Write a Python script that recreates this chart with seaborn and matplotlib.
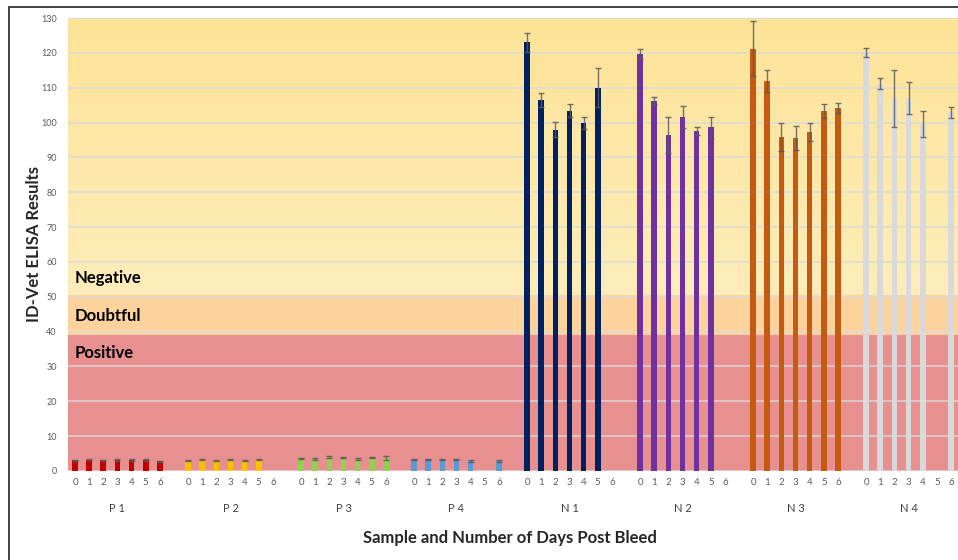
import numpy as np
import pandas as pd
import matplotlib
matplotlib.use("Agg")
import matplotlib.pyplot as plt
import seaborn as sns
from matplotlib.colors import LinearSegmentedColormap
from matplotlib.patches import Rectangle
import matplotlib.transforms as mtransforms

# Datos (NaN = sin barra)
muestras = ["P 1", "P 2", "P 3", "P 4", "N 1", "N 2", "N 3", "N 4"]
dias = [0, 1, 2, 3, 4, 5, 6]
colores = ["#C00000", "#FFC000", "#92D050", "#5B9BD5",
           "#002060", "#7030A0", "#C55A11", "#D9D9D9"]

p1_media = [3.1, 3.3, 3.1, 3.2, 3.2, 3.2, 2.8]
p1_err = [0.15, 0.2, 0.15, 0.2, 0.2, 0.2, 0.2]
p2_media = [3.1, 3.3, 3.1, 3.2, 3.0, 3.3, np.nan]
p2_err = [0.15, 0.2, 0.15, 0.15, 0.15, 0.2, np.nan]
p3_media = [3.6, 3.4, 4.0, 4.0, 3.4, 3.8, 3.7]
p3_err = [0.2, 0.2, 0.2, 0.15, 0.2, 0.2, 0.5]
p4_media = [3.4, 3.4, 3.3, 3.3, 2.9, np.nan, 2.9]
p4_err = [0.15, 0.15, 0.15, 0.15, 0.2, np.nan, 0.2]
n1_media = [123.0, 106.5, 98.0, 103.4, 99.9, 110.0, np.nan]
n1_err = [2.8, 1.9, 2.1, 1.8, 1.7, 5.6, np.nan]
n2_media = [119.7, 106.3, 96.5, 101.6, 97.5, 98.6, np.nan]
n2_err = [1.4, 1.1, 5.1, 3.1, 1.2, 3.0, np.nan]
n3_media = [121.2, 112.0, 95.8, 95.6, 97.3, 103.2, 104.2]
n3_err = [7.8, 3.2, 4.1, 3.5, 2.7, 2.0, 1.5]
n4_media = [120.1, 111.2, 107.0, 107.0, 99.6, np.nan, 102.9]
n4_err = [1.2, 1.5, 8.2, 4.5, 3.8, np.nan, 1.5]

medias = [p1_media, p2_media, p3_media, p4_media, n1_media, n2_media, n3_media, n4_media]
errores = [p1_err, p2_err, p3_err, p4_err, n1_err, n2_err, n3_err, n4_err]

# Orden de categorías con un hueco entre grupos
orden = []
etiquetas = []
for i, m in enumerate(muestras):
    for d in dias:
        orden.append(f"{m}|{d}")
        etiquetas.append(str(d))
    if i < len(muestras) - 1:
        orden.append(f"hueco{i}")
        etiquetas.append("")

filas = []
for m, med, err in zip(muestras, medias, errores):
    for d, v, e in zip(dias, med, err):
        if not np.isnan(v):
            filas.append({"slot": f"{m}|{d}", "muestra": m, "valor": v, "err": e})
df = pd.DataFrame(filas)

sns.set_style("white")
plt.rcParams["font.family"] = ["Lato", "DejaVu Sans"]

fig = plt.figure(figsize=(9.58, 5.6), dpi=100)
ax = fig.add_axes([68 / 958, 1 - 471 / 560, 1 - 68 / 958, (471 - 18) / 560])

xmin, xmax = -0.5, len(orden) - 0.5

# Bandas de interpretación
grad = LinearSegmentedColormap.from_list("neg", ["#FEEDBA", "#FDE397"])
ax.imshow(np.linspace(0, 1, 256).reshape(-1, 1), cmap=grad, origin="lower",
          extent=[xmin, xmax, 50.5, 130], aspect="auto", zorder=0.1)
ax.axhspan(39, 50.5, color="#FDD29C", zorder=0.1, lw=0)
ax.axhspan(0, 39, color="#E88F8F", zorder=0.1, lw=0)

for yv in range(0, 131, 10):
    ax.axhline(yv, color="#D9D9D9", alpha=0.8, lw=1.3, zorder=0.3)

sns.barplot(data=df, x="slot", y="valor", hue="muestra", order=orden,
            hue_order=muestras, palette=colores, dodge=False, width=0.4,
            saturation=1, errorbar=None, legend=False, ax=ax, zorder=2,
            linewidth=0, edgecolor="none")

pos = [orden.index(s) for s in df["slot"]]
ax.errorbar(pos, df["valor"], yerr=df["err"], fmt="none", ecolor="#5A5A5A",
            elinewidth=1, capsize=2, capthick=1, alpha=0.85, zorder=3)

ax.set_xlim(xmin, xmax)
ax.set_ylim(0, 130)
ax.set_yticks(range(0, 131, 10))
ax.tick_params(axis="y", labelsize=6.5, labelcolor="#595959", length=0, pad=8)
ax.set_xticks(range(len(orden)))
ax.set_xticklabels(etiquetas)
ax.tick_params(axis="x", labelsize=7, labelcolor="#595959", length=0, pad=5)
for s in ax.spines.values():
    s.set_visible(False)

# Etiquetas de grupo
trans = mtransforms.blended_transform_factory(ax.transData, fig.transFigure)
for m in muestras:
    centro = (orden.index(f"{m}|0") + orden.index(f"{m}|6")) / 2
    ax.text(centro, 1 - 508 / 560, m, transform=trans, ha="center", va="center",
            fontsize=8, color="#404040")

for txt, yv in [("Negative", 55.5), ("Doubtful", 44.5), ("Positive", 33.8)]:
    ax.text(0.0, yv, txt, ha="left", va="center", fontsize=12,
            fontweight="bold", color="black", zorder=4)

ax.set_xlabel("")
ax.set_ylabel("ID-Vet ELISA Results", fontsize=12, fontweight="bold")
ax.yaxis.set_label_coords((42 - 68) / 890, 0.5)
fig.text(510 / 958, 1 - 538 / 560, "Sample and Number of Days Post Bleed",
         ha="center", va="center", fontsize=12, fontweight="bold")

# Marco exterior
fig.patches.append(Rectangle((9 / 958, -0.05), 1.2, 1 - 7 / 560 + 0.05,
                             transform=fig.transFigure, fill=False,
                             edgecolor="#333333", lw=1.3))

fig.savefig("out.png", dpi=100)
